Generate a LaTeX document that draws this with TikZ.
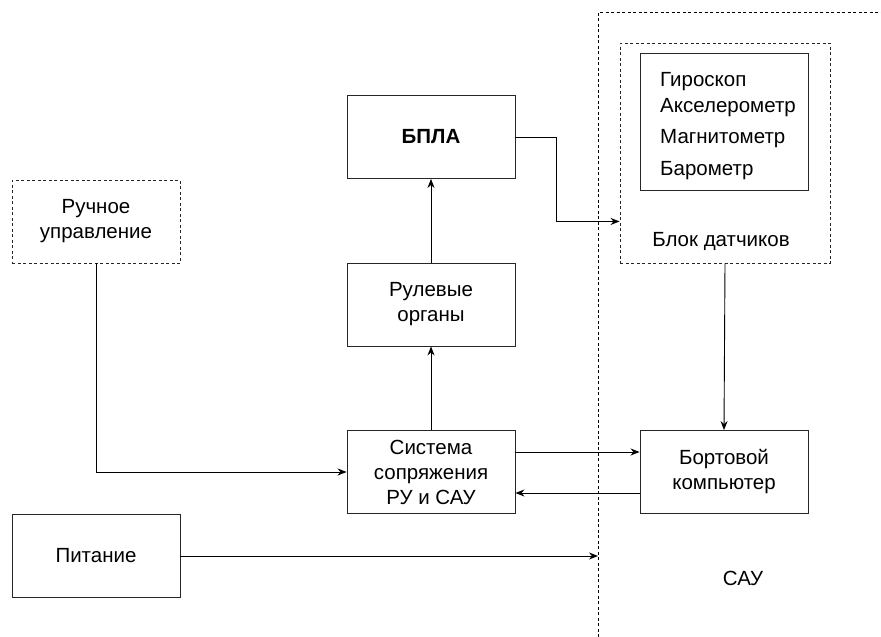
\documentclass[tikz,border=0pt]{standalone}
\usepackage{fontspec}
\setmainfont{Liberation Sans}
\usetikzlibrary{arrows.meta,calc}
\begin{document}
\begin{tikzpicture}[x=1pt,y=-1pt,
  box/.style={draw=black!85,line width=0.9pt,minimum width=168pt,minimum height=83pt,inner sep=0pt,align=center,font=\fontsize{20.5}{25}\selectfont},
  dbox/.style={box,dash pattern=on 3pt off 2.5pt},
  txt/.style={inner sep=0pt,font=\fontsize{20.5}{25}\selectfont},
  arr/.style={line width=0.9pt,-{Stealth[length=9pt,width=7pt]}},
  ln/.style={line width=0.9pt},
  dln/.style={line width=0.9pt,dash pattern=on 3pt off 2.5pt}]
\useasboundingbox (0,0) rectangle (881,637);
% outer SAU boundary
\coordinate (sautop) at (598,12);
\coordinate (saubot) at (598,637);
\coordinate (sauright) at (881,12);
\draw[dln] (saubot) -- (sautop) -- (sauright);
% nodes
\node[box,font=\bfseries\fontsize{20.5}{25}\selectfont] (bpla) at (431,137) {БПЛА};
\node[box] (rul) at (431,304.5) {Рулевые\\органы};
\node[box] (sys) at (431,472) {Система\\сопряжения\\РУ и САУ};
\node[dbox] (ruch) at (96,221.5) {Ручное\\управление};
\node[box] (pit) at (96,556) {Питание};
\node[box] (bort) at (724,472) {Бортовой\\компьютер};
\node[dbox,minimum width=210pt,minimum height=220pt] (blok) at (725,153) {};
\node[box,minimum height=137pt] (sens) at (724,121.5) {};
\node[txt,anchor=west] (s1) at (660,82) {Гироскоп};
\node[txt,anchor=west] (s2) at (660,108) {Акселерометр};
\node[txt,anchor=west] (s3) at (660,139) {Магнитометр};
\node[txt,anchor=west] (s4) at (660,171) {Барометр};
\node[txt] (bloklbl) at (721,241) {Блок датчиков};
\node[txt] (sau) at (743,578) {САУ};
% connectors
\draw[arr] (rul) -- (bpla);
\draw[arr] (sys) -- (rul);
\draw[arr] (ruch.south) |- (sys.west);
\draw[arr] (bpla.east) -- ++(41,0) |- ([yshift=42pt]blok.south west);
\draw[arr] ([yshift=20pt]sys.east) -- ([yshift=20pt]bort.west);
\draw[arr] ([yshift=-21pt]bort.west) -- ([yshift=-21pt]sys.east);
\draw[arr] (blok.south) -- (bort.north);
\draw[arr] (pit.east) -- (pit.east -| sautop);
\end{tikzpicture}
\end{document}
